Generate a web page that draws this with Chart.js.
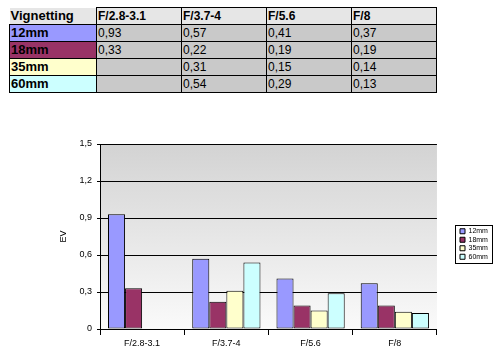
<!DOCTYPE html>
<html>
<head>
<meta charset="utf-8">
<script src="https://cdn.jsdelivr.net/npm/chart.js@4/dist/chart.umd.min.js"></script>
<style>
html, body { margin: 0; padding: 0; background: #fff; }
body { width: 502px; height: 355px; position: relative; overflow: hidden; font-family: "Liberation Sans", Arial, sans-serif; }
#tbl { position: absolute; left: 9px; top: 7px; border-collapse: collapse; table-layout: fixed; width: 427px; }
#tbl td { border: 1px solid #000; height: 16px; padding: 0 0 0 1px; font-size: 12px; line-height: 16px; background: #c9c9c9; white-space: nowrap; overflow: hidden; color: #000; }
#tbl tr.head td { background: #e6e6e6; font-weight: bold; }
#tbl td.corner { border: none; background: #fff; font-size: 13px; }
#tbl td.lab { font-weight: bold; font-size: 13px; }
#wrap { position: absolute; left: 0; top: 130px; width: 502px; height: 225px; }
</style>
</head>
<body>
<table id="tbl">
  <colgroup><col style="width:87px"><col style="width:85px"><col style="width:85px"><col style="width:85px"><col style="width:85px"></colgroup>
  <tbody id="tbody"></tbody>
</table>
<div id="wrap"><canvas id="vignChart" width="502" height="225"></canvas></div>
<script>
// données
var categories = ['F/2.8-3.1', 'F/3.7-4', 'F/5.6', 'F/8'];
var seriesNames = ['12mm', '18mm', '35mm', '60mm'];
var v12mm = [0.93, 0.57, 0.41, 0.37];
var v18mm = [0.33, 0.22, 0.19, 0.19];
var v35mm = [null, 0.31, 0.15, 0.14];
var v60mm = [null, 0.54, 0.29, 0.13];
var seriesColors = ['#9999ff', '#993366', '#ffffcc', '#ccffff'];
var yTickLabels = ['0', '0,3', '0,6', '0,9', '1,2', '1,5'];
var tableTitle = 'Vignetting';

(function () {
    'use strict';

    var allSeries = [v12mm, v18mm, v35mm, v60mm];
    var FONT = '"Liberation Sans", Arial, sans-serif';

    /* tableau au-dessus */
    var tbody = document.getElementById('tbody');
    var html = '<tr class="head"><td class="corner">' + tableTitle + '</td>';
    categories.forEach(function (c) { html += '<td>' + c + '</td>'; });
    html += '</tr>';
    seriesNames.forEach(function (name, i) {
        html += '<tr><td class="lab" style="background:' + seriesColors[i] + '">' + name + '</td>';
        allSeries[i].forEach(function (v) {
            html += '<td>' + (v === null ? '' : v.toFixed(2).replace('.', ',')) + '</td>';
        });
        html += '</tr>';
    });
    tbody.innerHTML = html;

    /* fond dégradé de la zone de tracé */
    var plotBg = {
        id: 'plotBg',
        beforeDraw: function (chart) {
            var a = chart.chartArea, ctx = chart.ctx;
            var g = ctx.createLinearGradient(0, a.top, 0, a.bottom);
            g.addColorStop(0, '#d3d3d3');
            g.addColorStop(1, '#fafafa');
            ctx.save();
            ctx.fillStyle = g;
            ctx.fillRect(a.left, a.top, a.right - a.left, a.bottom - a.top);
            ctx.restore();
        }
    };

    /* légende déplacée + cadre */
    var legendBox = {
        id: 'legendBox',
        afterLayout: function (chart) {
            var l = chart.legend;
            var dx = 458.5 - l.left;
            l.left += dx; l.right += dx;
            l.top -= 5.5; l.bottom -= 5.5;
        },
        afterDraw: function (chart) {
            var l = chart.legend, ctx = chart.ctx;
            var x = Math.round(l.left - 3.5) + 0.5;
            var y = Math.round((l.top + l.bottom) / 2 - 19) + 0.5;
            ctx.save();
            ctx.strokeStyle = '#000';
            ctx.lineWidth = 1;
            ctx.strokeRect(x, y, 37, 38);
            ctx.restore();
        }
    };

    new Chart(document.getElementById('vignChart').getContext('2d'), {
        type: 'bar',
        data: {
            labels: categories,
            datasets: seriesNames.map(function (name, i) {
                return {
                    label: name,
                    data: allSeries[i],
                    backgroundColor: seriesColors[i],
                    borderColor: '#000',
                    borderWidth: 1,
                    borderSkipped: false,
                    categoryPercentage: 0.81,
                    barPercentage: 1.0
                };
            })
        },
        options: {
            responsive: false,
            animation: false,
            layout: { padding: { left: 58, right: 25.6, top: 14, bottom: 0 } },
            plugins: {
                legend: {
                    position: 'right',
                    labels: {
                        boxWidth: 5, boxHeight: 5, padding: 1.5, color: '#000',
                        font: { size: 7, family: FONT }
                    }
                },
                tooltip: { enabled: false }
            },
            scales: {
                x: {
                    offset: true,
                    grid: { offset: true, drawOnChartArea: false, color: '#000', tickLength: 6 },
                    border: { color: '#000' },
                    ticks: { color: '#000', padding: 3, font: { size: 9, family: FONT } },
                    afterFit: function (s) { s.height = 26; }
                },
                y: {
                    min: 0, max: 1.5,
                    grid: { color: '#000', tickLength: 3 },
                    border: { color: '#000' },
                    ticks: {
                        stepSize: 0.3, color: '#000', padding: 5,
                        font: { size: 9, family: FONT },
                        callback: function (v, i) { return yTickLabels[i]; }
                    },
                    title: { display: true, text: 'EV', color: '#000', padding: 0, font: { size: 9, family: FONT } },
                    afterFit: function (s) { s.width = 42; }
                }
            }
        },
        plugins: [plotBg, legendBox]
    });
}());
</script>
</body>
</html>
